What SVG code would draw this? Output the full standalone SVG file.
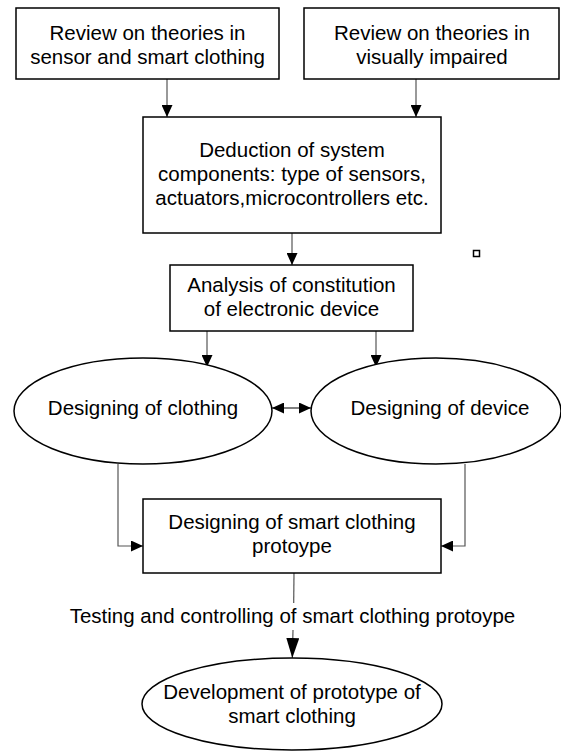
<svg xmlns="http://www.w3.org/2000/svg" width="561" height="751" viewBox="0 0 561 751">
  <defs>
    <marker id="arrow" viewBox="0 0 10 10" refX="10" refY="5" markerWidth="12" markerHeight="11" markerUnits="userSpaceOnUse" preserveAspectRatio="none" orient="auto-start-reverse">
      <path d="M0,0 L10,5 L0,10 Z" fill="#000"/>
    </marker>
    <marker id="arrow-lg" viewBox="0 0 10 10" refX="10" refY="5" markerWidth="20" markerHeight="13" markerUnits="userSpaceOnUse" preserveAspectRatio="none" orient="auto">
      <path d="M0,0 L10,5 L0,10 Z" fill="#000"/>
    </marker>
    <style>
      .box { fill: #fff; stroke: #000; stroke-width: 1.5; }
      .oval { fill: #fff; stroke: #000; stroke-width: 1.5; }
      .txt { font-family: "Liberation Sans", Arial, sans-serif; font-size: 20.5px; fill: #000; text-anchor: middle; }
      .link { fill: none; stroke: #555; stroke-width: 1.2; marker-end: url(#arrow); }
      .link-both { fill: none; stroke: #000; stroke-width: 1.2; marker-start: url(#arrow); marker-end: url(#arrow); }
      .plain { fill: none; stroke: #555; stroke-width: 1.2; }
    </style>
  </defs>

  <!-- connectors -->
  <g id="connectors">
    <line class="link" x1="167" y1="79" x2="167" y2="117"/>
    <line class="link" x1="416" y1="79" x2="416" y2="117"/>
    <line class="link" x1="292" y1="233" x2="292" y2="265"/>
    <line class="link" x1="207" y1="331" x2="207" y2="367"/>
    <line class="link" x1="376" y1="331" x2="376" y2="367"/>
    <line class="link-both" x1="272" y1="408" x2="311" y2="408"/>
    <polyline class="link" points="118,464 118,546 143,546"/>
    <polyline class="link" points="465,464 465,546 441,546"/>
    <!-- final step, interrupted by its label -->
    <line class="plain" x1="294" y1="573" x2="293.7" y2="603"/>
    <line class="plain" x1="293" y1="630" x2="292.3" y2="658" style="marker-end: url(#arrow-lg)"/>
    <text class="txt" x="292.5" y="623">Testing and controlling of smart clothing protoype</text>
  </g>

  <g id="review-sensor">
    <rect class="box" x="16" y="8" width="263" height="71"/>
    <text class="txt" x="147.5" y="40">Review on theories in</text>
    <text class="txt" x="147.5" y="64">sensor and smart clothing</text>
  </g>

  <g id="review-impaired">
    <rect class="box" x="304" y="8" width="255" height="71"/>
    <text class="txt" x="432" y="40">Review on theories in</text>
    <text class="txt" x="432" y="64">visually impaired</text>
  </g>

  <g id="deduction">
    <rect class="box" x="143" y="117" width="298" height="116"/>
    <text class="txt" x="292" y="157">Deduction of system</text>
    <text class="txt" x="292" y="181">components: type of sensors,</text>
    <text class="txt" x="292" y="205">actuators,microcontrollers etc.</text>
  </g>

  <g id="marker-square">
    <rect x="473.5" y="250.5" width="6" height="6" fill="#fff" stroke="#000" stroke-width="1.5"/>
  </g>

  <g id="analysis">
    <rect class="box" x="170" y="265" width="243" height="66"/>
    <text class="txt" x="291.5" y="292">Analysis of constitution</text>
    <text class="txt" x="291.5" y="316">of electronic device</text>
  </g>

  <g id="design-clothing">
    <ellipse class="oval" cx="143" cy="411" rx="129" ry="53"/>
    <text class="txt" x="143" y="415">Designing of clothing</text>
  </g>

  <g id="design-device">
    <ellipse class="oval" cx="436" cy="411" rx="125" ry="53"/>
    <text class="txt" x="440" y="415">Designing of device</text>
  </g>

  <g id="prototype-design">
    <rect class="box" x="143" y="499" width="298" height="74"/>
    <text class="txt" x="292" y="529">Designing of smart clothing</text>
    <text class="txt" x="292" y="553">protoype</text>
  </g>

  <g id="prototype-development">
    <ellipse class="oval" cx="292" cy="704" rx="150" ry="46"/>
    <text class="txt" x="292" y="699">Development of prototype of</text>
    <text class="txt" x="292" y="723">smart clothing</text>
  </g>
</svg>
